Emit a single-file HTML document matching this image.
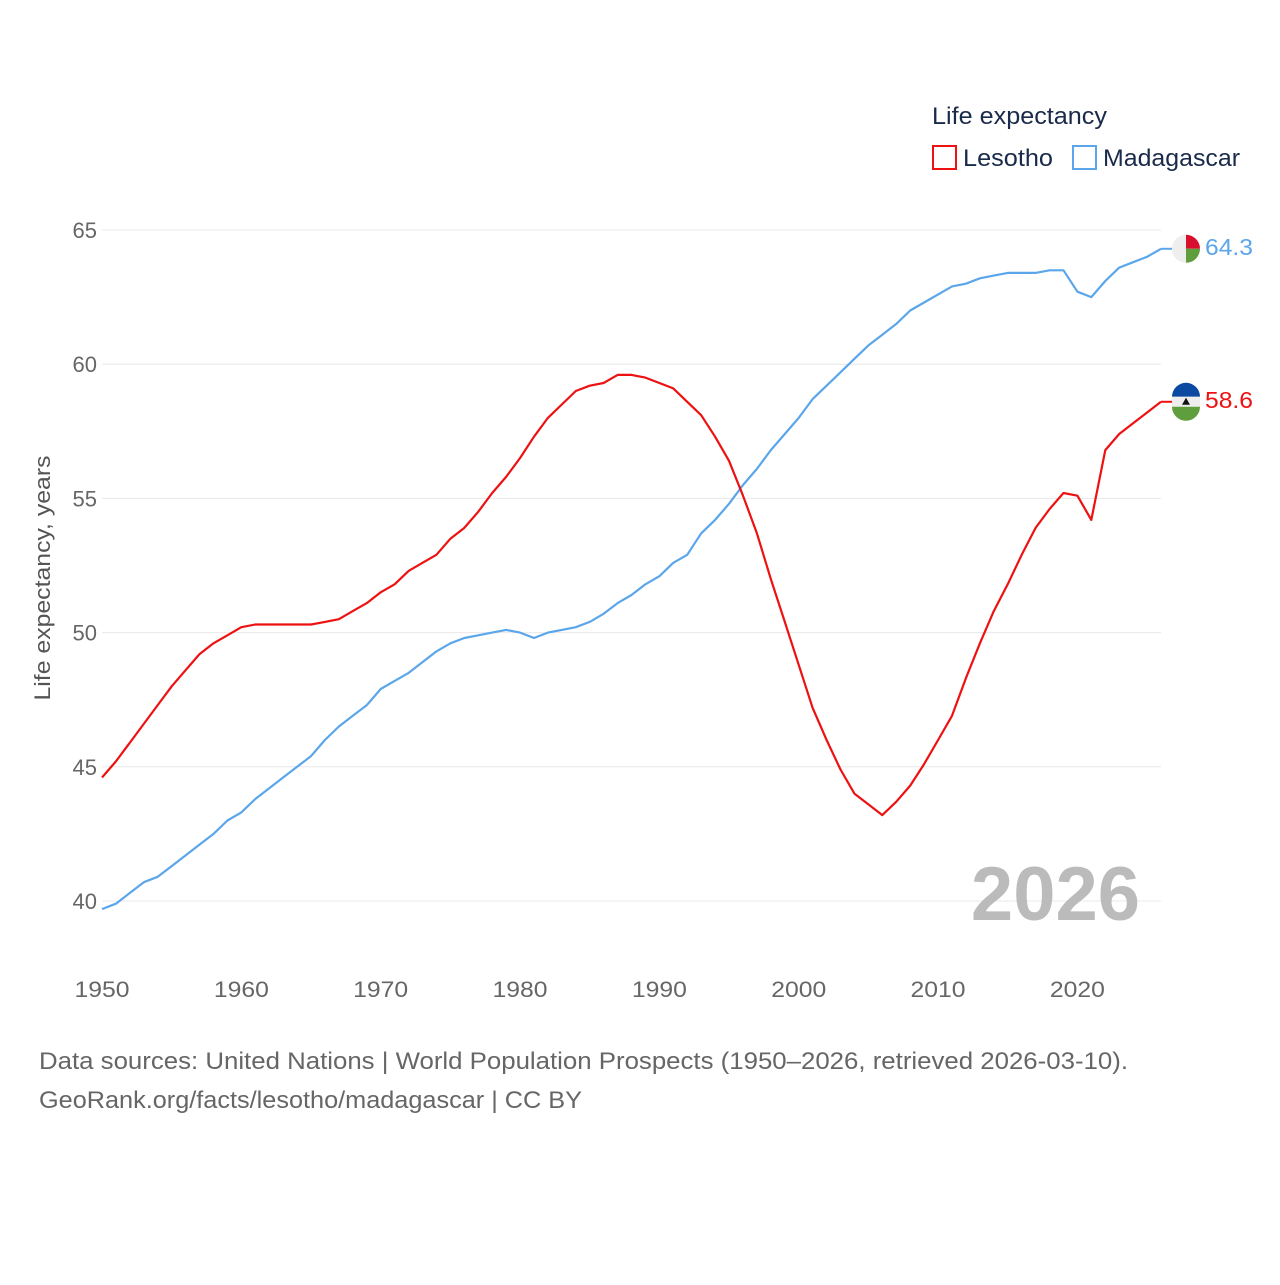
<!DOCTYPE html>
<html><head><meta charset="utf-8"><style>
html,body{margin:0;padding:0;background:#fff;}
svg text{font-family:"Liberation Sans",sans-serif;}
</style></head><body>
<svg id="chart" width="1280" height="1280" xmlns="http://www.w3.org/2000/svg">
<g id="grid"></g>
<g id="yticks"></g>
<g id="xticks"></g>
<text transform="translate(50,578) rotate(-90)" text-anchor="middle" font-size="22" fill="#555" textLength="245" lengthAdjust="spacingAndGlyphs">Life expectancy, years</text>
<text x="1140" y="920" text-anchor="end" font-size="76" font-weight="bold" fill="#bbb">2026</text>
<g id="series"></g>
<g>
<text x="932" y="124" font-size="24" fill="#1a2a4a" textLength="175" lengthAdjust="spacingAndGlyphs">Life expectancy</text>
<rect x="933" y="146" width="23" height="23" fill="none" stroke="#ee1111" stroke-width="2"/>
<text x="963" y="166" font-size="24" fill="#1a2a4a" textLength="90" lengthAdjust="spacingAndGlyphs">Lesotho</text>
<rect x="1073" y="146" width="23" height="23" fill="none" stroke="#5ba6ea" stroke-width="2"/>
<text x="1103" y="166" font-size="24" fill="#1a2a4a" textLength="137" lengthAdjust="spacingAndGlyphs">Madagascar</text>
</g>
<text x="39" y="1069" font-size="24" fill="#666" textLength="1089" lengthAdjust="spacingAndGlyphs">Data sources: United Nations | World Population Prospects (1950–2026, retrieved 2026-03-10).</text>
<text x="39" y="1108" font-size="24" fill="#666" textLength="543" lengthAdjust="spacingAndGlyphs">GeoRank.org/facts/lesotho/madagascar | CC BY</text>
</svg>
<script>
const years=[];for(let y=1950;y<=2026;y++)years.push(y);
const lesotho=[44.6,45.2,45.9,46.6,47.3,48.0,48.6,49.2,49.6,49.9,50.2,50.3,50.3,50.3,50.3,50.3,50.4,50.5,50.8,51.1,51.5,51.8,52.3,52.6,52.9,53.5,53.9,54.5,55.2,55.8,56.5,57.3,58.0,58.5,59.0,59.2,59.3,59.6,59.6,59.5,59.3,59.1,58.6,58.1,57.3,56.4,55.1,53.7,52.0,50.4,48.8,47.2,46.0,44.9,44.0,43.6,43.2,43.7,44.3,45.1,46.0,46.9,48.3,49.6,50.8,51.8,52.9,53.9,54.6,55.2,55.1,54.2,56.8,57.4,57.8,58.2,58.6];
const madagascar=[39.7,39.9,40.3,40.7,40.9,41.3,41.7,42.1,42.5,43.0,43.3,43.8,44.2,44.6,45.0,45.4,46.0,46.5,46.9,47.3,47.9,48.2,48.5,48.9,49.3,49.6,49.8,49.9,50.0,50.1,50.0,49.8,50.0,50.1,50.2,50.4,50.7,51.1,51.4,51.8,52.1,52.6,52.9,53.7,54.2,54.8,55.5,56.1,56.8,57.4,58.0,58.7,59.2,59.7,60.2,60.7,61.1,61.5,62.0,62.3,62.6,62.9,63.0,63.2,63.3,63.4,63.4,63.4,63.5,63.5,62.7,62.5,63.1,63.6,63.8,64.0,64.3];
const yTicks=[40,45,50,55,60,65];
const xTicks=[1950,1960,1970,1980,1990,2000,2010,2020];
const NS="http://www.w3.org/2000/svg";
const xs=y=>102+(y-1950)*(1161-102)/76;
const ys=v=>901-(v-40)*(901-230)/25;
function mk(tag,attrs,parent,txt){const e=document.createElementNS(NS,tag);for(const k in attrs)e.setAttribute(k,attrs[k]);if(txt!==undefined)e.textContent=txt;parent.appendChild(e);return e;}
const grid=document.getElementById('grid'),yt=document.getElementById('yticks'),xt=document.getElementById('xticks'),ser=document.getElementById('series');
yTicks.forEach(t=>{
const l=mk('line',{x1:102,x2:1161,y1:ys(t),y2:ys(t),stroke:'#e8e8e8','stroke-width':1},grid);


const tx=mk('text',{x:97,y:ys(t)+8,'text-anchor':'end','font-size':22,fill:'#666'},yt,t);


});
xTicks.forEach(t=>{
const tx=mk('text',{x:xs(t),y:997,'text-anchor':'middle','font-size':22,fill:'#666',textLength:55,lengthAdjust:'spacingAndGlyphs'},xt,t);


});
function line(data,color,name){
const d=data.map((v,i)=>(i?'L':'M')+xs(years[i]).toFixed(1)+','+ys(v).toFixed(1)).join('');
const p=mk('path',{d:d,fill:'none',stroke:color,'stroke-width':2.2,'stroke-linejoin':'round'},ser);


const lv=data[data.length-1],cy=ys(lv),cx=1186;
const g=mk('g',{},ser);


mk('line',{x1:1161,x2:cx-14,y1:cy,y2:cy,stroke:color,'stroke-width':2},g);
if(name==='madagascar'){
mk('path',{d:`M${cx},${cy-14}A14,14 0 0 0 ${cx},${cy+14}Z`,fill:'#eee'},g);
mk('path',{d:`M${cx},${cy-14}A14,14 0 0 1 ${cx+14},${cy}L${cx},${cy}Z`,fill:'#d8102e'},g);
mk('path',{d:`M${cx},${cy}L${cx+14},${cy}A14,14 0 0 1 ${cx},${cy+14}Z`,fill:'#5f9e3c'},g);
}else{
mk('path',{d:`M${cx-14},${cy-5}A14,14 0 0 1 ${cx+14},${cy-5}Z`,fill:'#0b4aa0'},g);
mk('rect',{x:cx-14,y:cy-5,width:28,height:10,fill:'#eee'},g);
mk('path',{d:`M${cx-14},${cy+5}L${cx+14},${cy+5}A14,14 0 0 1 ${cx-14},${cy+5}Z`,fill:'#5f9e3c'},g);
mk('path',{d:`M${cx-4},${cy+3}L${cx+4},${cy+3}L${cx},${cy-4}Z`,fill:'#111'},g);
}
const t=mk('text',{x:1205,y:cy+6,'font-size':23,fill:color,textLength:48,lengthAdjust:'spacingAndGlyphs'},ser,lv.toFixed(1));


}
line(madagascar,'#5ba6ea','madagascar');
line(lesotho,'#ee1111','lesotho');
</script>
</body></html>
